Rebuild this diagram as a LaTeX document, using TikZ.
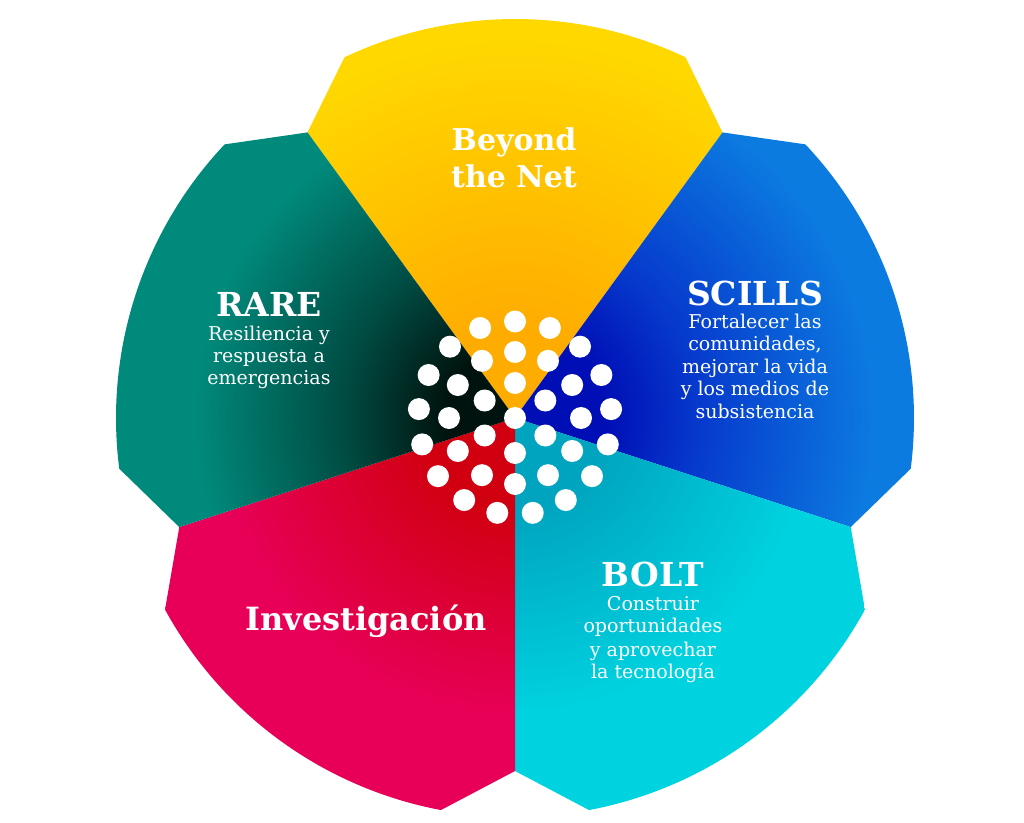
\documentclass[tikz,border=0pt]{standalone}
\usepackage{fontspec}
\setmainfont{DejaVu Serif}
\definecolor{yin}{HTML}{FFAC00}
\definecolor{yout}{HTML}{FFD800}
\definecolor{tin}{HTML}{00130E}
\definecolor{tmid}{HTML}{004A41}
\definecolor{tout}{HTML}{008A7B}
\definecolor{bin}{HTML}{000EB5}
\definecolor{bmid}{HTML}{0638CC}
\definecolor{bout}{HTML}{0C7BE0}
\definecolor{cin}{HTML}{00A4BF}
\definecolor{cout}{HTML}{00D3E0}
\definecolor{rin}{HTML}{D00010}
\definecolor{rout}{HTML}{E80058}
\pgfdeclareradialshading{yelshade}{\pgfpoint{0bp}{0bp}}{color(0bp)=(yin); color(5.6bp)=(yin); color(23.75bp)=(yout); color(50bp)=(yout)}
\pgfdeclareradialshading{tealshade}{\pgfpoint{0bp}{0bp}}{color(0bp)=(tin); color(4.4bp)=(tin); color(10.6bp)=(tmid); color(20bp)=(tout); color(50bp)=(tout)}
\pgfdeclareradialshading{blueshade}{\pgfpoint{0bp}{0bp}}{color(0bp)=(bin); color(5.6bp)=(bin); color(11.25bp)=(bmid); color(22.5bp)=(bout); color(50bp)=(bout)}
\pgfdeclareradialshading{cyanshade}{\pgfpoint{0bp}{0bp}}{color(0bp)=(cin); color(5.6bp)=(cin); color(18.75bp)=(cout); color(50bp)=(cout)}
\pgfdeclareradialshading{redshade}{\pgfpoint{0bp}{0bp}}{color(0bp)=(rin); color(5.6bp)=(rin); color(18.75bp)=(rout); color(50bp)=(rout)}
\begin{document}
\begin{tikzpicture}[x=1pt,y=1pt,
  dot/.style={circle,fill=white,inner sep=0pt,minimum size=22pt},
  head/.style={text=white,font=\bfseries\fontsize{33}{36}\selectfont,anchor=base,inner sep=0pt},
  sub/.style={text=white,font=\fontsize{19}{22}\selectfont,anchor=base,inner sep=0pt}]
\useasboundingbox (-515,-404) rectangle (509,418);
% yellow petal
\begin{scope}
\clip (0,0) -- (126:353) -- (115.3:399) arc[start angle=115.3,end angle=64.7,radius=399] -- (54:353) -- cycle;
\shade[shading=yelshade] (0,0) circle (400);
\end{scope}
% blue petal
\begin{scope}
\clip (0,0) -- (54:353) -- (43.3:399) arc[start angle=43.3,end angle=-7.3,radius=399] -- (-18:353) -- cycle;
\shade[shading=blueshade] (0,0) circle (400);
\end{scope}
% cyan petal
\begin{scope}
\clip (0,0) -- (-18:353) -- (-28.7:399) arc[start angle=-28.7,end angle=-79.3,radius=399] -- (-90:353) -- cycle;
\shade[shading=cyanshade] (0,0) circle (400);
\end{scope}
% red petal
\begin{scope}
\clip (0,0) -- (-90:353) -- (-100.7:399) arc[start angle=-100.7,end angle=-151.3,radius=399] -- (-162:353) -- cycle;
\shade[shading=redshade] (0,0) circle (400);
\end{scope}
% teal petal
\begin{scope}
\clip (0,0) -- (198:353) -- (187.3:399) arc[start angle=187.3,end angle=136.7,radius=399] -- (126:353) -- cycle;
\shade[shading=tealshade] (0,0) circle (400);
\end{scope}
% dots
\node[dot] (d0) at (0,0) {};
\foreach \k in {0,...,5} \node[dot] (a\k) at ({30+60*\k}:35) {};
\foreach \k in {0,...,11} \node[dot] (b\k) at ({30*\k}:66) {};
\foreach \k in {0,...,16} \node[dot] (c\k) at ({90+360*\k/17}:96.5) {};
% texts
\node[head,font=\bfseries\fontsize{30}{33}\selectfont] (bn1) at (-1,267.3) {Beyond};
\node[head,font=\bfseries\fontsize{30}{33}\selectfont] (bn2) at (-1,230.7) {the Net};
\node[head] (rare) at (-246,101.3) {RARE};
\node[sub] (rare1) at (-246,78) {Resiliencia y};
\node[sub] (rare2) at (-246,55.7) {respuesta a};
\node[sub] (rare3) at (-246,33.7) {emergencias};
\node[head] (scills) at (240,113) {SCILLS};
\node[sub] (sc1) at (240,89.7) {Fortalecer las};
\node[sub] (sc2) at (240,67.3) {comunidades,};
\node[sub] (sc3) at (240,44.7) {mejorar la vida};
\node[sub] (sc4) at (240,22.3) {y los medios de};
\node[sub] (sc5) at (240,-0.3) {subsistencia};
\node[head] (bolt) at (138,-168.7) {BOLT};
\node[sub] (bo1) at (138,-192.7) {Construir};
\node[sub] (bo2) at (138,-214.7) {oportunidades};
\node[sub] (bo3) at (138,-238) {y aprovechar};
\node[sub] (bo4) at (138,-260.3) {la tecnología};
\node[head,font=\bfseries\fontsize{32}{36}\selectfont] (inv) at (-149,-212.7) {Investigación};
\end{tikzpicture}
\end{document}
